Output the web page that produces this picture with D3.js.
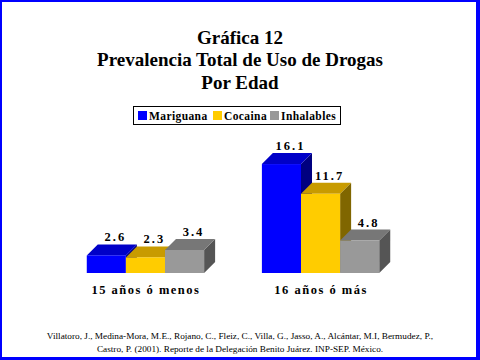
<!DOCTYPE html>
<html><head><meta charset="utf-8">
<script src="https://cdn.jsdelivr.net/npm/d3@7"></script>
<style>html,body{margin:0;padding:0;background:#fff;}svg{display:block;}
text{font-family:"Liberation Serif","Times New Roman",Times,"DejaVu Serif",serif;}</style>
</head><body>
<svg id="c" width="480" height="360"></svg>
<script>
const categories = ["15 años ó menos", "16 años ó más"];
const series = ["Mariguana", "Cocaina", "Inhalables"];
const mariguana = [2.6, 16.1];
const cocaina = [2.3, 11.7];
const inhalables = [3.4, 4.8];
const valueLabels = [["2.6","2.3","3.4"],["16.1","11.7","4.8"]];
const titleLines = ["Gráfica 12", "Prevalencia Total de Uso de Drogas", "Por Edad"];
const sourceLines = ["Villatoro, J., Medina-Mora, M.E., Rojano, C., Fleiz, C., Villa, G., Jasso, A., Alcántar, M.I, Bermudez, P.,",
  "Castro, P. (2001). Reporte de la Delegación Benito Juárez. INP-SEP. México."];

const values = [mariguana, cocaina, inhalables];
const colors = [
  {front:"#0000ff", top:"#0000c8", side:"#000080"},
  {front:"#ffcc00", top:"#c89b00", side:"#806600"},
  {front:"#999999", top:"#777777", side:"#555555"}
];

const svg = d3.select("#c");
svg.append("rect").attr("x",0).attr("y",0).attr("width",480).attr("height",360).attr("fill","#0000ff");
svg.append("rect").attr("x",2).attr("y",2).attr("width",474).attr("height",355).attr("fill","#ffffff");

// Title
svg.selectAll("text.title").data(titleLines).join("text")
  .attr("x",240).attr("y",(d,i)=>43.5+i*22.5)
  .attr("text-anchor","middle").attr("font-weight","bold")
  .attr("font-size",19).attr("fill","#000").text(d=>d);

// Legend
const lg = svg.append("g");
lg.append("rect").attr("x",133.5).attr("y",106.5).attr("width",207).attr("height",18)
  .attr("fill","#fff").attr("stroke","#000").attr("stroke-width",1);
const legX = [138, 213, 270];
series.forEach((s,i)=>{
  lg.append("rect").attr("x",legX[i]).attr("y",111).attr("width",9).attr("height",9).attr("fill",colors[i].front);
  lg.append("text").attr("x",legX[i]+11).attr("y",120).attr("font-weight","bold")
    .attr("font-size",11.5).attr("letter-spacing",0.4).attr("fill","#000").text(s);
});

// Scales
const x0 = d3.scaleBand().domain(categories).range([57,409]).paddingInner(0.33).paddingOuter(0.17);
const x1 = d3.scaleBand().domain(series).range([0, x0.bandwidth()]);
const y = d3.scaleLinear().domain([0,18]).range([273, 151.2]);
const D = 11; // depth offset

categories.forEach((c,ci)=>{
  const g = svg.append("g").attr("transform",`translate(${x0(c)},0)`);
  series.forEach((s,si)=>{
    const v = values[si][ci];
    const xl = x1(s), xr = xl + x1.bandwidth();
    const yt = y(v), yb = y(0);
    g.append("path").attr("d",`M${xr},${yt}L${xr+D},${yt-D}L${xr+D},${yb-D}L${xr},${yb}Z`).attr("fill",colors[si].side);
    g.append("path").attr("d",`M${xl},${yt}L${xl+D},${yt-D}L${xr+D},${yt-D}L${xr},${yt}Z`).attr("fill",colors[si].top);
    g.append("rect").attr("x",xl).attr("y",yt).attr("width",x1.bandwidth()).attr("height",yb-yt).attr("fill",colors[si].front);
    g.append("text").attr("x",(xl+xr)/2+9).attr("y",yt-D-3).attr("text-anchor","middle")
      .attr("font-weight","bold").attr("font-size",12.5).attr("letter-spacing",2)
      .attr("fill","#000").text(valueLabels[ci][si]);
  });
  svg.append("text").attr("x",x0(c)+x0.bandwidth()/2+0.5).attr("y",294).attr("text-anchor","middle")
    .attr("font-weight","bold").attr("font-size",12.5).attr("letter-spacing",1.5)
    .attr("fill","#000").text(c);
});

// Source
svg.selectAll("text.src").data(sourceLines).join("text")
  .attr("x",240).attr("y",(d,i)=>339+i*12.7).attr("text-anchor","middle")
  .attr("font-size",9.25).attr("fill","#000").text(d=>d);
</script>
</body></html>
